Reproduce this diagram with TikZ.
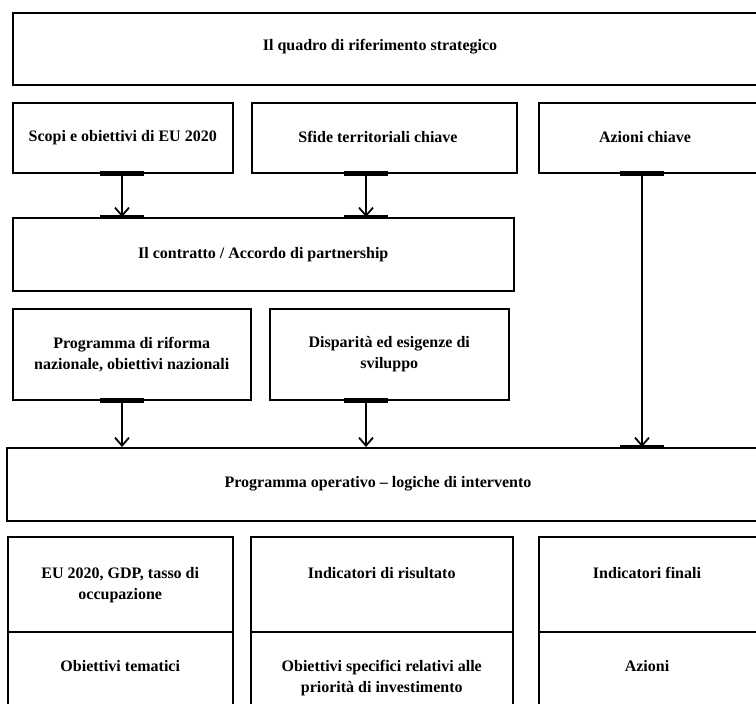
\documentclass[tikz,border=0pt]{standalone}
\usepackage{fontspec}
\setmainfont{Liberation Serif}
\usetikzlibrary{arrows.meta}
\begin{document}
\begin{tikzpicture}[x=1pt,y=-1pt,
  box/.style={draw, line width=1.5pt, inner sep=0pt, anchor=north west},
  lbl/.style={font=\bfseries\fontsize{16}{21}\selectfont, align=center, inner sep=0pt},
  conn/.style={line width=1.7pt, -{Straight Barb[length=8pt,width=14pt,line width=1.8pt]}},
  tbar/.style={line width=4.4pt}]
\useasboundingbox (0,0) rectangle (756,704);
% x positions of connectors
\coordinate (xa) at (122,0);
\coordinate (xb) at (366,0);
\coordinate (xc) at (642,0);
% top box
\node[box, minimum width=746pt, minimum height=72pt] (top) at (12,12) {};
\node[lbl] (ttop) at (380,47) {Il quadro di riferimento strategico};
% row 2
\node[box, minimum width=220pt, minimum height=70pt] (r2a) at (12,102) {};
\node[lbl] (tr2a) at (r2a.center) {Scopi e obiettivi di EU 2020};
\node[box, minimum width=265pt, minimum height=70pt] (r2b) at (251,102) {};
\node[lbl] (tr2b) at (378,137) {Sfide territoriali chiave};
\node[box, minimum width=220pt, minimum height=70pt] (r2c) at (538,102) {};
\node[lbl] (tr2c) at (645,137) {Azioni chiave};
% contratto
\node[box, minimum width=501pt, minimum height=73pt] (contr) at (12,217) {};
\node[lbl] (tcontr) at (contr.center) {Il contratto / Accordo di partnership};
% row 4
\node[box, minimum width=238pt, minimum height=91pt] (r4a) at (12,308) {};
\node[lbl] (tr4a) at (r4a.center) {Programma di riforma\\nazionale, obiettivi nazionali};
\node[box, minimum width=239pt, minimum height=91pt] (r4b) at (269,308) {};
\node[lbl] (tr4b) at (r4b.center) {Disparità ed esigenze di\\sviluppo};
% programma operativo
\node[box, minimum width=752pt, minimum height=73pt] (prog) at (6,447) {};
\node[lbl] (tprog) at (378,484) {Programma operativo – logiche di intervento};
% bottom grid
\node[box, minimum width=225pt, minimum height=95pt] (c1a) at (7,536) {};
\node[box, minimum width=225pt, minimum height=90pt] (c1b) at (7,631) {};
\node[box, minimum width=262pt, minimum height=95pt] (c2a) at (250,536) {};
\node[box, minimum width=262pt, minimum height=90pt] (c2b) at (250,631) {};
\node[box, minimum width=220pt, minimum height=95pt] (c3a) at (538,536) {};
\node[box, minimum width=220pt, minimum height=90pt] (c3b) at (538,631) {};
\node[lbl, anchor=north] (tc1a) at ([yshift=-31pt]c1a.north) {EU 2020, GDP, tasso di\\occupazione};
\node[lbl, anchor=north] (tc2a) at ([yshift=-31pt]c2a.north) {Indicatori di risultato};
\node[lbl, anchor=north] (tc3a) at ([yshift=-31pt]c3a.north -| 647,0) {Indicatori finali};
\node[lbl, anchor=north] (tc1b) at ([yshift=-29pt]c1b.north) {Obiettivi tematici};
\node[lbl, anchor=north] (tc2b) at ([yshift=-29pt]c2b.north) {Obiettivi specifici relativi alle\\priorità di investimento};
\node[lbl, anchor=north] (tc3b) at ([yshift=-29pt]c3b.north -| 647,0) {Azioni};
% connectors
\draw[conn] (r2a.south -| xa) -- (contr.north -| xa);
\draw[conn] (r2b.south -| xb) -- (contr.north -| xb);
\draw[conn] (r2c.south -| xc) -- (prog.north -| xc);
\draw[conn] (r4a.south -| xa) -- (prog.north -| xa);
\draw[conn] (r4b.south -| xb) -- (prog.north -| xb);
% thick bars at connector ends
\foreach \n/\x in {r2a/xa, r2b/xb, r2c/xc, r4a/xa, r4b/xb}
  \draw[tbar] ([xshift=-22pt]\n.south -| \x) -- ([xshift=22pt]\n.south -| \x);
\foreach \n/\x in {contr/xa, contr/xb, prog/xc}
  \draw[tbar] ([xshift=-22pt]\n.north -| \x) -- ([xshift=22pt]\n.north -| \x);
\end{tikzpicture}
\end{document}
